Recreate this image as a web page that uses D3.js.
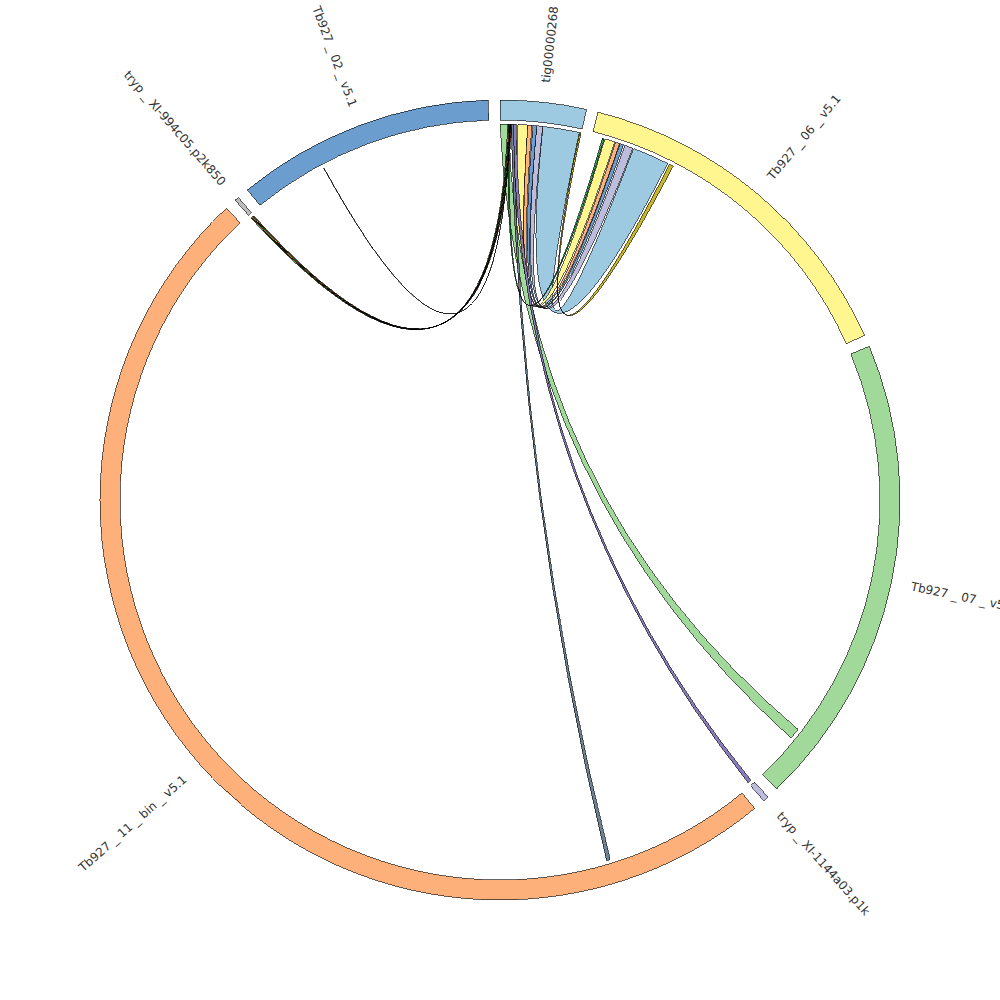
<!DOCTYPE html>
<html lang="en">
<head>
<meta charset="UTF-8">
<title>tig00000268 links</title>
<style>
  body { margin: 0; background: #fff; }
  svg text { font-family: "DejaVu Sans", sans-serif; font-size: 12px; fill: #333; }
  path { shape-rendering: crispEdges; }
</style>
</head>
<body>
<svg id="svg" width="1000" height="1000"></svg>
<script src="https://d3js.org/d3.v7.min.js"></script>
<script>
  // contigs / chromosomes, clockwise from the top (lengths in kb)
  const segNames = ['tig00000268', 'Tb927_06_v5.1', 'Tb927_07_v5.1', 'tryp_XI-1144a03.p1k',
    'Tb927_11_bin_v5.1', 'tryp_XI-994c05.p2k850', 'Tb927_02_v5.1']
  const segLengths = [400, 1650, 2205, 26, 5650, 19, 1200]
  const segColors = ['#9ecae1', '#fff68f', '#a1d99b', '#bcbddc', '#fdb07a', '#bdbdbd', '#6b9ecf']

  // links out of tig00000268: kb range on the contig -> kb range on the target
  const linkTargets = ['Tb927_06_v5.1', 'Tb927_06_v5.1', 'Tb927_06_v5.1', 'Tb927_06_v5.1', 'Tb927_06_v5.1',
    'Tb927_06_v5.1', 'Tb927_06_v5.1', 'Tb927_07_v5.1', 'tryp_XI-1144a03.p1k', 'Tb927_11_bin_v5.1',
    'Tb927_02_v5.1', 'tryp_XI-994c05.p2k850', 'tryp_XI-994c05.p2k850', 'tryp_XI-994c05.p2k850',
    'tryp_XI-994c05.p2k850']
  const linkFrom = [[210, 390], [88, 136], [136, 156], [161, 180], [180, 209],
    [391, 399], [40, 48], [0, 42], [62, 79], [54, 65],
    [50, 51], [38, 44], [44, 49], [49, 53], [53, 57]]
  const linkTo = [[212, 394], [64, 114], [119, 140], [142, 160], [167, 208],
    [404, 424], [52, 61], [1928, 1982], [7, 25], [721, 739],
    [358, 360], [0, 5], [5, 10], [10, 14], [14, 18]]
  const linkColors = ['#9ecae1', '#fff68f', '#fdb07a', '#6b9ecf', '#bcbddc',
    '#c8b62a', '#31a354', '#a1d99b', '#8a7bbd', '#6e8296',
    '#444444', '#5a9e4b', '#8c6d31', '#9ccb5a', '#d6604d']

  const cx = 500, cy = 500
  const outerR = 400, innerR = 380, chordR = 376, labelR = 420
  const bendR = 20 // bezier control sits a little off the centre, toward the link
  const pad = 1.7 * Math.PI / 180

  // angle layout: first contig starts at 12 o'clock, fixed gap between contigs
  const total = d3.sum(segLengths)
  const k = (2 * Math.PI - pad * segLengths.length) / total
  let acc = 0
  const segs = segNames.map((name, i) => {
    const start = acc
    const end = start + segLengths[i] * k
    acc = end + pad
    return {
      name: name,
      color: segColors[i],
      startAngle: start,
      endAngle: end,
      scale: d3.scaleLinear().domain([0, segLengths[i]]).range([start, end])
    }
  })
  const byName = new Map(segs.map(s => [s.name, s]))
  const tig = byName.get('tig00000268')

  const links = linkTargets.map((t, i) => {
    const seg = byName.get(t)
    return {
      source: { startAngle: tig.scale(linkFrom[i][0]), endAngle: tig.scale(linkFrom[i][1]) },
      target: { startAngle: seg.scale(linkTo[i][0]), endAngle: seg.scale(linkTo[i][1]) },
      color: linkColors[i],
      size: (linkTo[i][1] - linkTo[i][0]) + (linkFrom[i][1] - linkFrom[i][0])
    }
  })
  // wide ribbons underneath, thin ones on top
  links.sort((a, b) => b.size - a.size)

  // same shape as d3.ribbon but with the control point pulled off centre
  const pt = (a, r) => [r * Math.sin(a), -r * Math.cos(a)]
  function ctrl(a, b) {
    const p = pt(a, 1), q = pt(b, 1)
    const mx = p[0] + q[0], my = p[1] + q[1]
    const len = Math.hypot(mx, my) || 1
    return [mx / len * bendR, my / len * bendR]
  }
  function ribbonPath(d) {
    const r = chordR
    const s0 = d.source.startAngle, s1 = d.source.endAngle
    const t0 = d.target.startAngle, t1 = d.target.endAngle
    const p = d3.path()
    const a = pt(s0, r)
    p.moveTo(a[0], a[1])
    p.arc(0, 0, r, s0 - Math.PI / 2, s1 - Math.PI / 2)
    let c = ctrl(s1, t0), e = pt(t0, r)
    p.quadraticCurveTo(c[0], c[1], e[0], e[1])
    p.arc(0, 0, r, t0 - Math.PI / 2, t1 - Math.PI / 2)
    c = ctrl(t1, s0)
    p.quadraticCurveTo(c[0], c[1], a[0], a[1])
    p.closePath()
    return p.toString()
  }

  const svg = d3.select('#svg')
  const g = svg.append('g').attr('transform', `translate(${cx}, ${cy})`)

  g.append('g')
    .selectAll('path')
    .data(links)
    .join('path')
    .attr('d', ribbonPath)
    .attr('fill', d => d.color)
    .attr('stroke', '#000')
    .attr('stroke-width', 0.6)

  const arc = d3.arc().innerRadius(innerR).outerRadius(outerR)
  g.append('g')
    .selectAll('path')
    .data(segs)
    .join('path')
    .attr('d', arc)
    .attr('fill', d => d.color)
    .attr('stroke', '#000')
    .attr('stroke-width', 0.6)

  // radial labels, flipped on the left half so they read upright
  g.append('g')
    .selectAll('text')
    .data(segs)
    .join('text')
    .attr('transform', d => {
      const deg = (d.startAngle + d.endAngle) / 2 * 180 / Math.PI
      return `rotate(${deg - 90}) translate(${labelR}, 0)` + (deg > 180 ? ' rotate(180)' : '')
    })
    .attr('text-anchor', d => ((d.startAngle + d.endAngle) / 2 > Math.PI ? 'end' : 'start'))
    .attr('dy', '0.35em')
    .text(d => d.name.replace(/_/g, ' _ '))
</script>
</body>
</html>
